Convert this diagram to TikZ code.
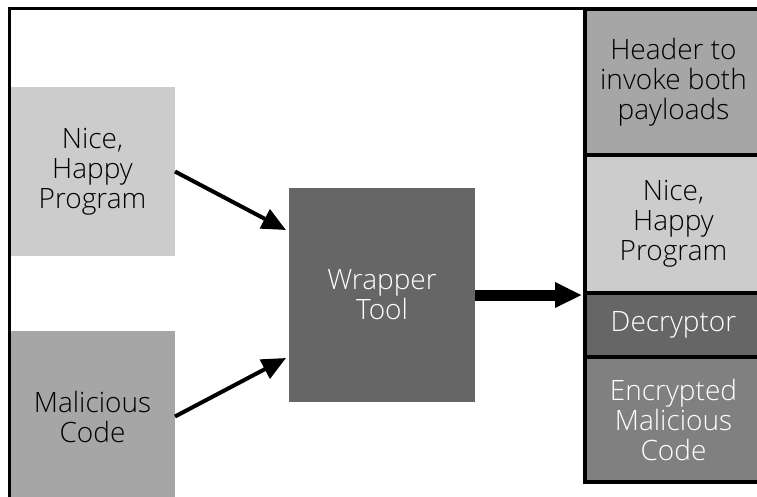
\documentclass[tikz,border=0pt]{standalone}
\usepackage{fontspec}
\setmainfont{Open Sans}[UprightFont=* Light]
\usetikzlibrary{arrows.meta}
\begin{document}
\begin{tikzpicture}[x=1pt,y=-1pt,
  box/.style={font=\fontsize{28}{30}\selectfont, align=center,
    inner sep=0pt, outer sep=0pt},
  cell/.style={box, draw=black, line width=4pt, minimum width=177pt},
  thinarrow/.style={line width=4pt, -{Triangle[length=24pt,width=21pt]}},
  thickarrow/.style={line width=11pt, -{Triangle[length=27pt,width=24pt]}}]
  \useasboundingbox (0,0) rectangle (757,496);
  \clip (0,0) rectangle (757,496);

  % input blocks on the left
  \node[box, fill=black!20, minimum width=165pt, minimum height=169pt]
    (nice) at (92.5,171.5) {Nice,\\Happy\\Program};
  \node[box, fill=black!35, minimum width=165pt, minimum height=171pt]
    (mal) at (92.5,416.5) {Malicious\\Code};

  % outer frame
  \draw[line width=3pt] (9,497) -- (9,8) -- (758,8);

  % wrapper in the middle
  \node[box, fill=black!60, text=white, minimum width=186pt, minimum height=214pt]
    (wrap) at (382,295) {Wrapper\\Tool};

  % resulting wrapped executable
  \node[cell, fill=black!35, minimum height=145.5pt]
    (hdr) at (673.5,81.75) {Header to\\invoke both\\payloads};
  \node[cell, fill=black!20, minimum height=138.5pt]
    (nice2) at (673.5,223.75) {Nice,\\Happy\\Program};
  \node[cell, fill=black!60, text=white, minimum height=64pt]
    (dec) at (673.5,325) {Decryptor};
  \node[cell, fill=black!50, text=white, minimum height=125pt]
    (enc) at (673.5,419.5) {Encrypted\\Malicious\\Code};

  % connectors
  \draw[thinarrow] (nice.east) -- ([shift={(-3,42)}]wrap.north west);
  \draw[thinarrow] (mal.east) -- ([shift={(-3,170)}]wrap.north west);
  \draw[thickarrow] (wrap.east) -- ([xshift=-3pt]wrap.east -| dec.west);
\end{tikzpicture}
\end{document}
